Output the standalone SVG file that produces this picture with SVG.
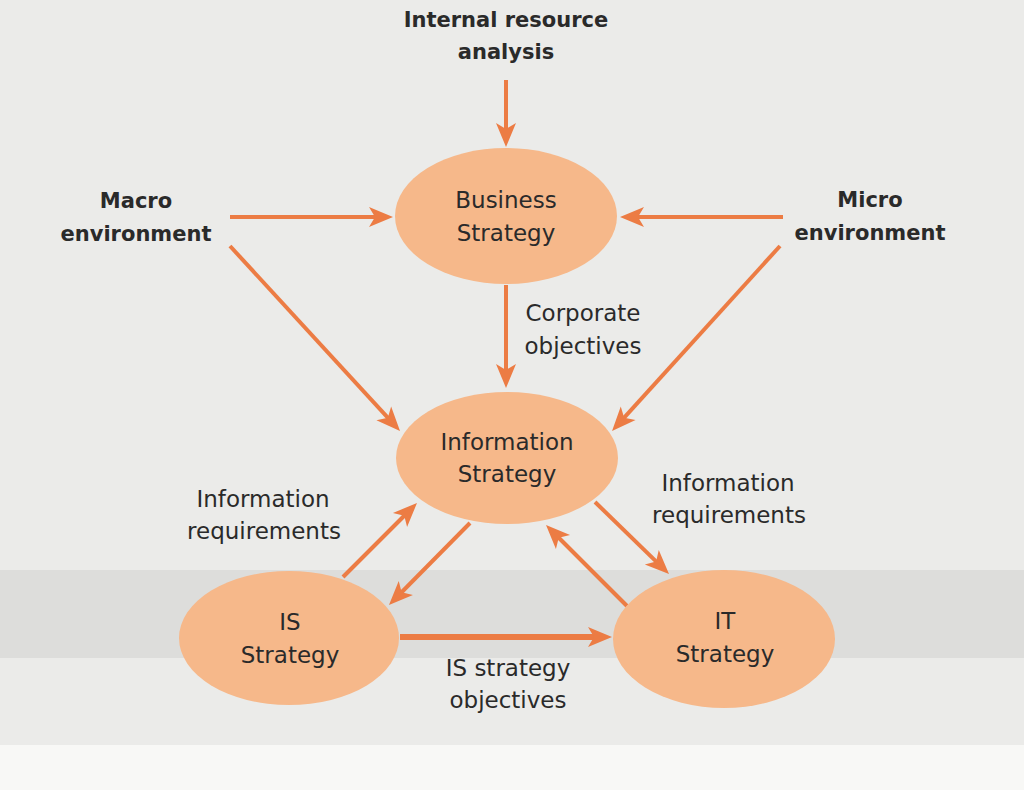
<svg xmlns="http://www.w3.org/2000/svg" width="1024" height="790" viewBox="0 0 1024 790">
  <style>
    .node { fill: #f6b88a; }
    .lbl { font-family: "DejaVu Sans", "Liberation Sans", sans-serif; font-size: 23px; fill: #2a2a2a; text-anchor: middle; }
    .ext { font-family: "DejaVu Sans", "Liberation Sans", sans-serif; font-size: 21px; font-weight: bold; fill: #2a2a2a; text-anchor: middle; }
    .conn { stroke: #ec7c44; stroke-width: 4; fill: none; marker-end: url(#head); }
    .thick { stroke-width: 6; }
  </style>
  <defs>
    <marker id="head" viewBox="-14 -11 28 22" refX="0" refY="0" markerWidth="28" markerHeight="22" markerUnits="userSpaceOnUse" orient="auto">
      <path d="M12,0 L-12,-10 L-6,0 L-12,10 Z" fill="#ec7c44"/>
    </marker>
  </defs>

  <g id="background">
    <rect x="0" y="0" width="1024" height="790" fill="#ebebe9"/>
    <rect x="0" y="570" width="1024" height="88" fill="#dddddb"/>
    <rect x="0" y="745" width="1024" height="45" fill="#f8f8f6"/>
  </g>

  <g id="connectors">
    <line class="conn" x1="506" y1="80" x2="506" y2="135"/>
    <line class="conn" x1="230" y1="217" x2="381" y2="217"/>
    <line class="conn" x1="783" y1="217" x2="632" y2="217"/>
    <line class="conn" x1="230" y1="246" x2="391.9" y2="422.2"/>
    <line class="conn" x1="780" y1="246" x2="620.1" y2="422.1"/>
    <line class="conn" x1="506" y1="285" x2="506" y2="376"/>
    <line class="conn" x1="343" y1="577" x2="408.5" y2="511.5"/>
    <line class="conn" x1="470" y1="523" x2="397.4" y2="596.5"/>
    <line class="conn" x1="595" y1="502" x2="660.4" y2="565.6"/>
    <line class="conn" x1="627" y1="606" x2="554.5" y2="533.5"/>
    <line class="conn thick" x1="400" y1="637" x2="600" y2="637"/>
  </g>

  <g id="internal-resource-analysis">
    <text class="ext" x="506" y="27">Internal resource</text>
    <text class="ext" x="506" y="59">analysis</text>
  </g>
  <g id="macro-environment">
    <text class="ext" x="136" y="208">Macro</text>
    <text class="ext" x="136" y="241">environment</text>
  </g>
  <g id="micro-environment">
    <text class="ext" x="870" y="207">Micro</text>
    <text class="ext" x="870" y="240">environment</text>
  </g>

  <g id="business-strategy">
    <ellipse class="node" cx="506" cy="216" rx="111" ry="68"/>
    <text class="lbl" x="506" y="208">Business</text>
    <text class="lbl" x="506" y="241">Strategy</text>
  </g>
  <g id="information-strategy">
    <ellipse class="node" cx="507" cy="458" rx="111" ry="66"/>
    <text class="lbl" x="507" y="450">Information</text>
    <text class="lbl" x="507" y="482">Strategy</text>
  </g>
  <g id="is-strategy">
    <ellipse class="node" cx="289" cy="638" rx="110" ry="67"/>
    <text class="lbl" x="290" y="630">IS</text>
    <text class="lbl" x="290" y="663">Strategy</text>
  </g>
  <g id="it-strategy">
    <ellipse class="node" cx="724" cy="639" rx="111" ry="69"/>
    <text class="lbl" x="725" y="629">IT</text>
    <text class="lbl" x="725" y="662">Strategy</text>
  </g>

  <g id="labels">
    <text class="lbl" x="583" y="321">Corporate</text>
    <text class="lbl" x="583" y="354">objectives</text>
    <text class="lbl" x="263" y="507">Information</text>
    <text class="lbl" x="264" y="539">requirements</text>
    <text class="lbl" x="728" y="491">Information</text>
    <text class="lbl" x="729" y="523">requirements</text>
    <text class="lbl" x="508" y="676">IS strategy</text>
    <text class="lbl" x="508" y="708">objectives</text>
  </g>
</svg>
